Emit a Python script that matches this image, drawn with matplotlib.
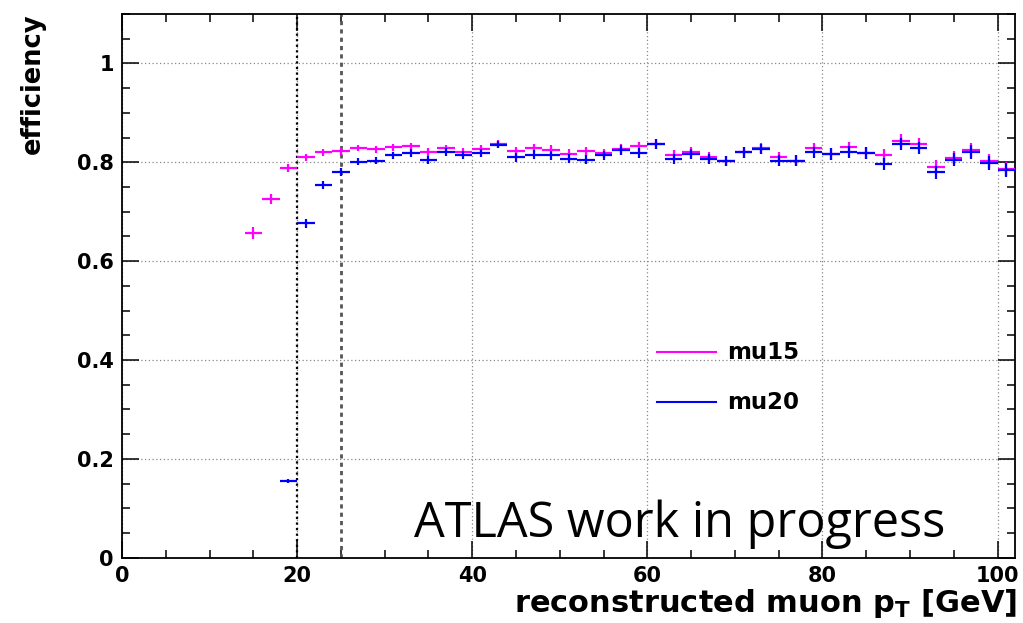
import numpy as np
import matplotlib.pyplot as plt
from matplotlib.ticker import MultipleLocator

# bin centres (2 GeV bins)
pt_mu15 = [15, 17, 19, 21, 23, 25, 27, 29, 31, 33, 35, 37, 39, 41, 43, 45, 47, 49,
           51, 53, 55, 57, 59, 61, 63, 65, 67, 69, 71, 73, 75, 77, 79, 81, 83, 85,
           87, 89, 91, 93, 95, 97, 99, 101]
eff_mu15 = [0.657, 0.726, 0.789, 0.810, 0.820, 0.822, 0.829, 0.826, 0.830, 0.832,
            0.820, 0.828, 0.820, 0.827, 0.837, 0.822, 0.829, 0.825, 0.817, 0.822,
            0.818, 0.827, 0.832, 0.837, 0.814, 0.820, 0.810, 0.803, 0.820, 0.828,
            0.810, 0.803, 0.829, 0.817, 0.830, 0.818, 0.814, 0.844, 0.837, 0.791,
            0.809, 0.825, 0.803, 0.787]
err_mu15 = [0.013, 0.010, 0.008, 0.007, 0.007, 0.007, 0.007, 0.007, 0.007, 0.008,
            0.008, 0.008, 0.008, 0.008, 0.008, 0.009, 0.009, 0.009, 0.009, 0.009,
            0.009, 0.010, 0.010, 0.010, 0.010, 0.010, 0.010, 0.010, 0.011, 0.011,
            0.011, 0.011, 0.011, 0.012, 0.012, 0.012, 0.012, 0.013, 0.013, 0.013,
            0.013, 0.014, 0.014, 0.014]

pt_mu20 = [19, 21, 23, 25, 27, 29, 31, 33, 35, 37, 39, 41, 43, 45, 47, 49,
           51, 53, 55, 57, 59, 61, 63, 65, 67, 69, 71, 73, 75, 77, 79, 81, 83, 85,
           87, 89, 91, 93, 95, 97, 99, 101]
eff_mu20 = [0.155, 0.677, 0.754, 0.780, 0.801, 0.803, 0.814, 0.818, 0.805, 0.820,
            0.814, 0.818, 0.836, 0.810, 0.815, 0.814, 0.807, 0.805, 0.814, 0.824,
            0.818, 0.837, 0.807, 0.817, 0.807, 0.803, 0.820, 0.827, 0.803, 0.803,
            0.820, 0.817, 0.820, 0.818, 0.797, 0.837, 0.829, 0.780, 0.805, 0.820,
            0.798, 0.785]
err_mu20 = [0.004, 0.009, 0.008, 0.008, 0.007, 0.007, 0.007, 0.008,
            0.008, 0.008, 0.008, 0.008, 0.008, 0.009, 0.009, 0.009, 0.009, 0.009,
            0.009, 0.010, 0.010, 0.010, 0.010, 0.010, 0.010, 0.010, 0.011, 0.011,
            0.011, 0.011, 0.011, 0.012, 0.012, 0.012, 0.012, 0.013, 0.013, 0.013,
            0.013, 0.014, 0.014, 0.014]

thresholds = [20, 25]

bold = dict(fontweight='bold', family='DejaVu Sans')

fig = plt.figure(figsize=(10.23, 6.23), dpi=100)
ax = fig.add_axes([0.1193, 0.1048, 0.8729, 0.8727])

ax.errorbar(pt_mu15, eff_mu15, xerr=1, yerr=err_mu15, fmt='none',
            ecolor='#ff00ff', elinewidth=1.6, zorder=3)
ax.errorbar(pt_mu20, eff_mu20, xerr=1, yerr=err_mu20, fmt='none',
            ecolor='#0000ff', elinewidth=1.6, zorder=4)

ax.axvline(thresholds[0], color='black', ls=(0, (1, 1.5)), lw=1.6, zorder=2)
ax.axvline(thresholds[1], color='#555555', ls=(0, (1.5, 1.5)), lw=2.0, zorder=2)

ax.set_xlim(0, 102)
ax.set_ylim(0, 1.1)
ax.xaxis.set_major_locator(MultipleLocator(20))
ax.xaxis.set_minor_locator(MultipleLocator(5))
ax.yaxis.set_minor_locator(MultipleLocator(0.05))
ax.grid(True, which='major', color='#888888', ls=(0, (1, 2)), lw=0.9)
ax.tick_params(which='both', direction='in', top=True, right=True, width=1.1)
ax.tick_params(which='major', length=12, labelsize=15, pad=6)
ax.tick_params(which='minor', length=6)
ax.set_xticks([0, 20, 40, 60, 80, 100])
ax.set_xticklabels(['0', '20', '40', '60', '80', '100'], fontsize=15, **bold)
ax.set_yticks([0, 0.2, 0.4, 0.6, 0.8, 1.0])
ax.set_yticklabels(['0', '0.2', '0.4', '0.6', '0.8', '1'], fontsize=15, **bold)
for sp in ax.spines.values():
    sp.set_linewidth(1.3)

fig.text(33 / 1023, 1 - 14 / 623, 'efficiency', rotation=90, ha='center', va='top',
         fontsize=18.5, **bold)
fig.text(1017 / 1023, 1 - 603 / 623, r'reconstructed muon p$_{\mathbf{T}}$ [GeV]',
         ha='right', va='center', fontsize=22, **bold)

ax.text(0.327, 0.038, 'ATLAS work in progress', transform=ax.transAxes,
        fontsize=35, family='Open Sans', ha='left', va='baseline')

# legend drawn as in the ROOT canvas
ax.plot([61.1, 67.8], [0.416, 0.416], color='#ff00ff', lw=1.5)
ax.plot([61.1, 67.8], [0.315, 0.315], color='#0000ff', lw=1.5)
ax.text(69.1, 0.416, 'mu15', fontsize=16.5, va='center', **bold)
ax.text(69.1, 0.315, 'mu20', fontsize=16.5, va='center', **bold)

fig.savefig('out.png', dpi=100)
